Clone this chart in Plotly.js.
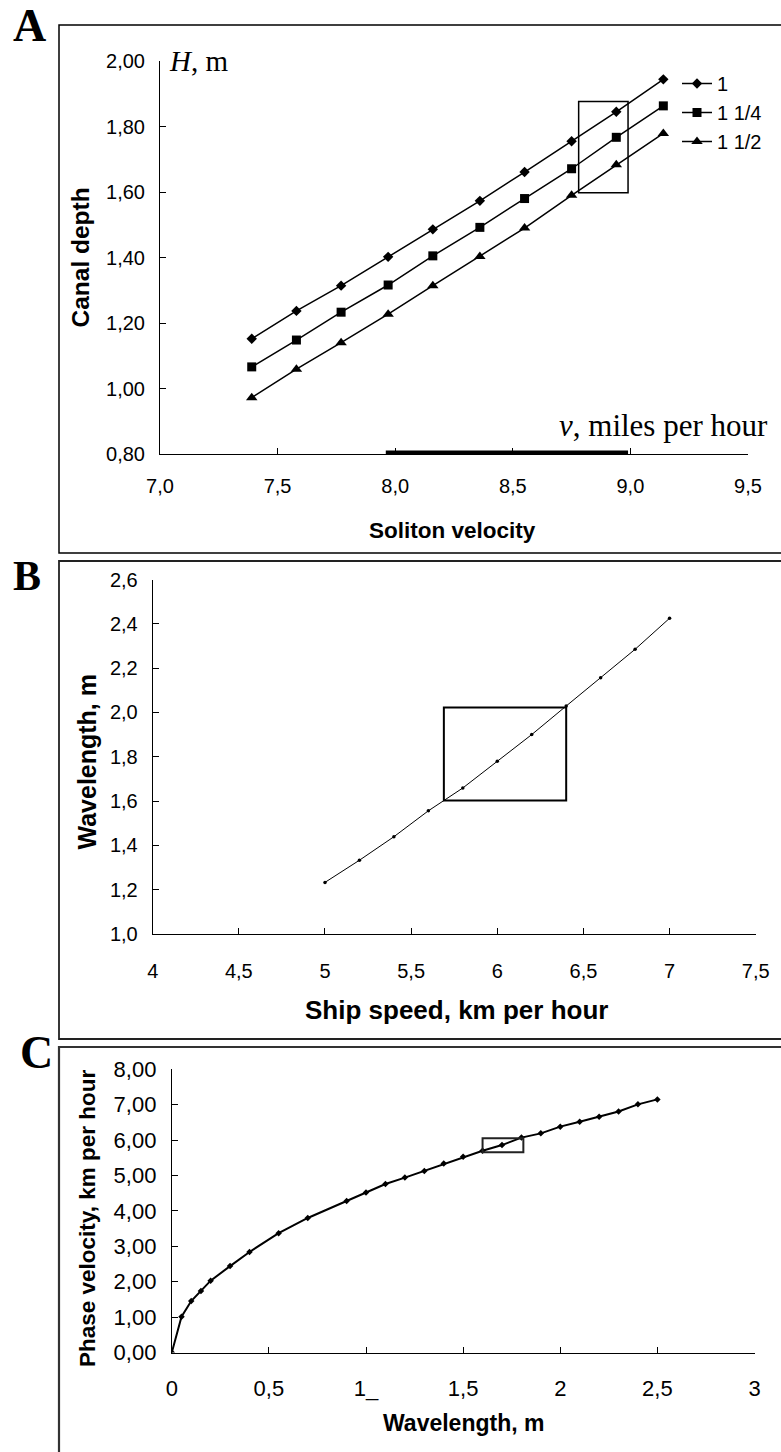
<!DOCTYPE html>
<html>
<head>
<meta charset="utf-8">
<script src="https://cdn.plot.ly/plotly-3.0.1.min.js"></script>
<style>html,body{margin:0;padding:0;background:#fff;}#chart{width:781px;height:1452px;}</style>
</head>
<body>
<div id="chart"></div>
<script>
// ---------- Panel A data ----------
const velA = [7.39, 7.58, 7.77, 7.97, 8.16, 8.36, 8.55, 8.75, 8.94, 9.14];
const depth1 = [1.152, 1.237, 1.314, 1.402, 1.486, 1.573, 1.661, 1.755, 1.845, 1.944];
const depth114 = [1.066, 1.148, 1.233, 1.316, 1.405, 1.492, 1.580, 1.671, 1.767, 1.863];
const depth112 = [0.972, 1.059, 1.140, 1.227, 1.314, 1.403, 1.490, 1.590, 1.683, 1.779];
const seriesNamesA = ["1", "1 1/4", "1 1/2"];
// ---------- Panel B data ----------
const speedB = [5.0, 5.2, 5.4, 5.6, 5.8, 6.0, 6.2, 6.4, 6.6, 6.8, 7.0];
const waveB = [1.233, 1.333, 1.439, 1.556, 1.659, 1.780, 1.900, 2.029, 2.156, 2.285, 2.425];
// ---------- Panel C data ----------
const waveC = [0, 0.05, 0.1, 0.15, 0.2, 0.3, 0.4, 0.55, 0.7, 0.9, 1.0, 1.1, 1.2, 1.3, 1.4, 1.5, 1.6, 1.7, 1.8, 1.9, 2.0, 2.1, 2.2, 2.3, 2.4, 2.5];
const phaseC = [0, 1.01, 1.455, 1.737, 2.03, 2.44, 2.84, 3.37, 3.80, 4.28, 4.52, 4.76, 4.94, 5.13, 5.34, 5.53, 5.70, 5.86, 6.07, 6.19, 6.38, 6.52, 6.66, 6.81, 7.01, 7.15];
const tickValsC = [0, 0.5, 1, 1.5, 2, 2.5, 3];
const tickTextC = ["0", "0,5", "1_", "1,5", "2", "2,5", "3"];
// highlight boxes (data units)
const boxA = {x: [8.78, 8.99], y: [1.598, 1.876]};
const barA = {x: [7.96, 8.99], y: 0.80};
const boxB = {x: [5.69, 6.40], y: [1.602, 2.022]};
const boxC = {x: [1.60, 1.81], y: [5.66, 6.05]};

const W = 781, H = 1452;
const px = v => v / W;
const py = v => 1 - v / H;
const SANS = "Liberation Sans, Arial, sans-serif";
const SERIF = "Liberation Serif, Times New Roman, serif";

const traces = [
  {x: velA, y: depth1, name: seriesNamesA[0], mode: "lines+markers", xaxis: "x", yaxis: "y",
   line: {color: "#000", width: 1.5}, marker: {symbol: "diamond", size: 8, color: "#000"}},
  {x: velA, y: depth114, name: seriesNamesA[1], mode: "lines+markers", xaxis: "x", yaxis: "y",
   line: {color: "#000", width: 1.5}, marker: {symbol: "square", size: 9, color: "#000"}},
  {x: velA, y: depth112, name: seriesNamesA[2], mode: "lines+markers", xaxis: "x", yaxis: "y",
   line: {color: "#000", width: 1.5}, marker: {symbol: "triangle-up", size: 10, color: "#000"}},
  {x: speedB, y: waveB, mode: "lines+markers", xaxis: "x2", yaxis: "y2", showlegend: false,
   line: {color: "#000", width: 1}, marker: {symbol: "circle", size: 3.5, color: "#000"}},
  {x: waveC, y: phaseC, mode: "lines+markers", xaxis: "x3", yaxis: "y3", showlegend: false,
   line: {color: "#000", width: 2}, marker: {symbol: "diamond", size: 5, color: "#000"}}
];

const axBase = {
  showline: true, linecolor: "#000", linewidth: 1, ticks: "inside", ticklen: 6,
  tickcolor: "#000", tickwidth: 1, showgrid: false, zeroline: false, fixedrange: true,
  color: "#000"
};

const layout = {
  width: W, height: H,
  margin: {l: 0, r: 0, t: 0, b: 0},
  paper_bgcolor: "#fff", plot_bgcolor: "rgba(0,0,0,0)",
  separators: ", ",
  font: {family: SANS, color: "#000"},
  showlegend: true,
  legend: {x: px(677), xanchor: "left", y: py(64), yanchor: "top", bgcolor: "rgba(0,0,0,0)",
           font: {family: SANS, size: 20, color: "#000"}, itemwidth: 30, tracegroupgap: 0},
  xaxis: Object.assign({}, axBase, {domain: [px(160), px(748)], range: [7, 9.5], dtick: 0.5, tick0: 7,
          tickformat: ".1f", anchor: "y", ticklabelstandoff: 14, tickfont: {family: SANS, size: 20}}),
  yaxis: Object.assign({}, axBase, {domain: [py(454), py(61)], range: [0.8, 2.0], dtick: 0.2, tick0: 0.8,
          tickformat: ".2f", anchor: "x", ticklabelstandoff: 10, tickfont: {family: SANS, size: 20}}),
  xaxis2: Object.assign({}, axBase, {domain: [px(152.7), px(755.7)], range: [4, 7.5], dtick: 0.5, tick0: 4,
          anchor: "y2", ticklabelstandoff: 19, tickfont: {family: SANS, size: 20}}),
  yaxis2: Object.assign({}, axBase, {domain: [py(934), py(579.5)], range: [1.0, 2.6], dtick: 0.2, tick0: 1.0,
          tickformat: ".1f", anchor: "x2", ticklabelstandoff: 10, tickfont: {family: SANS, size: 20}}),
  xaxis3: Object.assign({}, axBase, {domain: [px(171.8), px(754.5)], range: [0, 3], tickmode: "array",
          tickvals: tickValsC, ticktext: tickTextC, anchor: "y3", ticklabelstandoff: 16, tickfont: {family: SANS, size: 22}}),
  yaxis3: Object.assign({}, axBase, {domain: [py(1352.5), py(1069.3)], range: [0, 8], dtick: 1, tick0: 0,
          tickformat: ".2f", anchor: "x3", ticklabelstandoff: 10, tickfont: {family: SANS, size: 22}}),
  shapes: [
    // panel frames
    {type: "rect", xref: "paper", yref: "paper", x0: px(59), x1: 1.05, y0: py(553), y1: py(25),
     line: {color: "#000", width: 1.5}},
    {type: "rect", xref: "paper", yref: "paper", x0: px(59), x1: 1.05, y0: py(1039), y1: py(561),
     line: {color: "#222", width: 1.8}},
    {type: "rect", xref: "paper", yref: "paper", x0: px(59), x1: 1.05, y0: -0.05, y1: py(1047),
     line: {color: "#333", width: 2.2}},
    // highlight boxes
    {type: "rect", xref: "x", yref: "y", x0: boxA.x[0], x1: boxA.x[1], y0: boxA.y[0], y1: boxA.y[1],
     line: {color: "#000", width: 1.5}},
    {type: "line", xref: "x", yref: "y", x0: barA.x[0], x1: barA.x[1], y0: barA.y, y1: barA.y,
     line: {color: "#000", width: 7}},
    {type: "rect", xref: "x2", yref: "y2", x0: boxB.x[0], x1: boxB.x[1], y0: boxB.y[0], y1: boxB.y[1],
     line: {color: "#000", width: 2}},
    {type: "rect", xref: "x3", yref: "y3", x0: boxC.x[0], x1: boxC.x[1], y0: boxC.y[0], y1: boxC.y[1],
     line: {color: "#222", width: 2}}
  ],
  annotations: [
    {text: "<b>A</b>", x: px(29), y: py(25), xref: "paper", yref: "paper", showarrow: false,
     xanchor: "center", yanchor: "middle", font: {family: SERIF, size: 46, color: "#000"}},
    {text: "<b>B</b>", x: px(27), y: py(576), xref: "paper", yref: "paper", showarrow: false,
     xanchor: "center", yanchor: "middle", font: {family: SERIF, size: 42, color: "#000"}},
    {text: "<b>C</b>", x: px(36), y: py(1052), xref: "paper", yref: "paper", showarrow: false,
     xanchor: "center", yanchor: "middle", font: {family: SERIF, size: 46, color: "#000"}},
    {text: "<i>H</i>, m", x: px(167), y: py(61), xref: "paper", yref: "paper", showarrow: false,
     xanchor: "left", yanchor: "middle", font: {family: SERIF, size: 29, color: "#000"}},
    {text: "<i>v</i>, miles per hour", x: px(770), y: py(425), xref: "paper", yref: "paper", showarrow: false,
     xanchor: "right", yanchor: "middle", font: {family: SERIF, size: 31, color: "#000"}},
    {text: "<b>Canal depth</b>", x: px(80), y: py(257.5), xref: "paper", yref: "paper", showarrow: false,
     textangle: -90, xanchor: "center", yanchor: "middle", font: {family: SANS, size: 24.5, color: "#000"}},
    {text: "<b>Soliton velocity</b>", x: px(453), y: py(530), xref: "paper", yref: "paper", showarrow: false,
     xanchor: "center", yanchor: "middle", font: {family: SANS, size: 22.5, color: "#000"}},
    {text: "<b>Wavelength, m</b>", x: px(86), y: py(761.5), xref: "paper", yref: "paper", showarrow: false,
     textangle: -90, xanchor: "center", yanchor: "middle", font: {family: SANS, size: 25, color: "#000"}},
    {text: "<b>Ship speed, km per hour</b>", x: px(456), y: py(1010), xref: "paper", yref: "paper", showarrow: false,
     xanchor: "center", yanchor: "middle", font: {family: SANS, size: 26, color: "#000"}},
    {text: "<b>Phase velocity, km per hour</b>", x: px(87), y: py(1219), xref: "paper", yref: "paper", showarrow: false,
     textangle: -90, xanchor: "center", yanchor: "middle", font: {family: SANS, size: 22.5, color: "#000"}},
    {text: "<b>Wavelength, m</b>", x: px(463), y: py(1423), xref: "paper", yref: "paper", showarrow: false,
     xanchor: "center", yanchor: "middle", font: {family: SANS, size: 23, color: "#000"}}
  ]
};

Plotly.newPlot("chart", traces, layout, {staticPlot: true, displayModeBar: false});
</script>
</body>
</html>
